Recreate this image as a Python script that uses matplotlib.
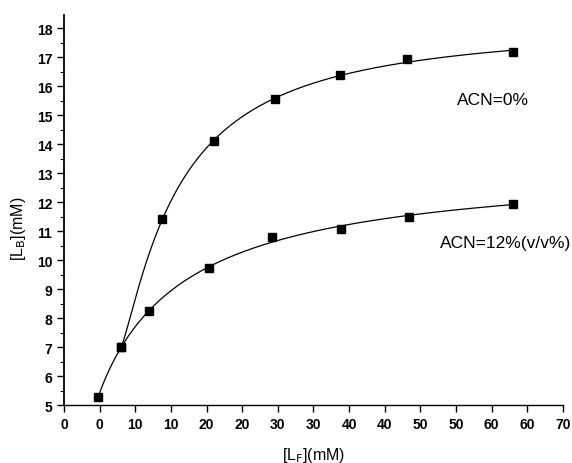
import numpy as np
import matplotlib
matplotlib.use("Agg")
import matplotlib.pyplot as plt
from matplotlib.ticker import MultipleLocator

# data (x in axis position units)
x_acn0 = [8.0, 13.8, 21.1, 29.6, 38.7, 48.1, 63.0]
y_acn0 = [7.0, 11.41, 14.1, 15.57, 16.4, 16.94, 17.17]
x_acn12 = [4.8, 8.0, 11.9, 20.4, 29.2, 38.8, 48.4, 63.0]
y_acn12 = [5.28, 7.0, 8.25, 9.72, 10.79, 11.08, 11.5, 11.95]

x_ticks = np.arange(0, 75, 5)
x_ticklabels = ["0", "0", "10", "10", "20", "20", "30", "30",
                "40", "40", "50", "50", "60", "60", "70"]
y_ticks = np.arange(5, 19, 1)


def binding_fit(x, y):
    # saturation curve y = y0 + B*u^n/(K^n + u^n), u = x - x0, starts on the first point
    x = np.asarray(x, float)
    y = np.asarray(y, float)
    u = x - x[0]
    dy = y - y[0]
    best = None
    for K in np.linspace(1, 60, 300):
        for n in np.linspace(0.5, 2.5, 81):
            f = u ** n / (K ** n + u ** n)
            B = np.dot(f, dy) / np.dot(f, f)
            sse = np.sum((B * f - dy) ** 2)
            if best is None or sse < best[0]:
                best = (sse, K, n, B)
    _, K, n, B = best
    xs = np.linspace(x[0], x[-1], 400)
    us = xs - x[0]
    return xs, y[0] + B * us ** n / (K ** n + us ** n)


plt.rcParams['font.family'] = ['Liberation Sans', 'DejaVu Sans']
fig = plt.figure(figsize=(5.72, 4.64), dpi=100)
ax = fig.add_axes([0.112, 0.125, 0.872, 0.8405])

xs0, ys0 = binding_fit(x_acn0, y_acn0)
ax.plot(xs0, ys0, color='black', lw=0.9)
xs12, ys12 = binding_fit(x_acn12, y_acn12)
ax.plot(xs12, ys12, color='black', lw=0.9)

ax.plot(x_acn0, y_acn0, 's', color='black', ms=6)
ax.plot(x_acn12, y_acn12, 's', color='black', ms=6)

ax.text(55.1, 15.56, "ACN=0%", fontsize=12.5, va='center', ha='left')
ax.text(52.8, 10.62, "ACN=12%(v/v%)", fontsize=12.5, va='center', ha='left')

ax.set_xlim(0, 70)
ax.set_ylim(5, 18.46)
ax.set_xticks(x_ticks)
ax.set_xticklabels(x_ticklabels)
ax.set_yticks(y_ticks)
ax.yaxis.set_minor_locator(MultipleLocator(0.5))
ax.tick_params(axis='both', direction='out', length=5, width=1, labelsize=10)
ax.tick_params(axis='y', which='minor', direction='out', length=3, width=0.8)
for lab in ax.get_xticklabels() + ax.get_yticklabels():
    lab.set_fontweight('bold')
ax.spines['top'].set_visible(False)
ax.spines['right'].set_visible(False)
ax.spines['left'].set_linewidth(1.3)
ax.spines['bottom'].set_linewidth(1.0)

ax.set_xlabel(r"[L$_\mathrm{F}$](mM)", fontsize=11.5, labelpad=10)
ax.set_ylabel(r"[L$_\mathrm{B}$](mM)", fontsize=11.5)
ax.yaxis.set_label_coords(-0.072, 0.454)

fig.savefig("out.png", dpi=100)
